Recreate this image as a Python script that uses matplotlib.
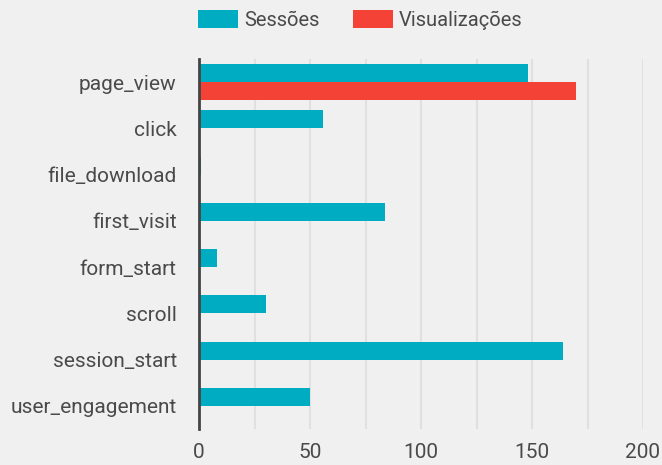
import matplotlib
matplotlib.use('Agg')
import matplotlib.pyplot as plt
import numpy as np

eventos = ['page_view', 'click', 'file_download', 'first_visit',
           'form_start', 'scroll', 'session_start', 'user_engagement']
sessoes = [148, 56, 1, 84, 8, 30, 164, 50]
visualizacoes = [170, 0, 0, 0, 0, 0, 0, 0]
xticks = [0, 50, 100, 150, 200]

plt.rcParams['font.family'] = ['Roboto', 'DejaVu Sans']
bg = '#f0f0f0'
txt = '#4a4a4a'

fig = plt.figure(figsize=(6.62, 4.65), dpi=100, facecolor=bg)
ax = fig.add_axes([199/662, 1 - 429/465, (643-199)/662, (429-59)/465])
ax.set_facecolor(bg)

y = np.arange(len(eventos))
h = 0.39
ax.barh(y - h/2, sessoes, height=h, color='#00acc1', label='Sessões', zorder=3)
ax.barh(y + h/2, visualizacoes, height=h, color='#f44336', label='Visualizações', zorder=3)

ax.set_ylim(len(eventos) - 0.5, -0.5)
ax.set_yticks(y)
ax.set_yticklabels(eventos)
ax.set_xlim(0, 200)
ax.set_xticks(xticks)
ax.set_xticks(np.arange(0, 201, 25), minor=True)
ax.grid(axis='x', which='both', color='#e0e0e0', linewidth=1.5, zorder=0)
ax.tick_params(axis='both', length=0, labelsize=15, colors=txt, which='both')
ax.tick_params(axis='y', pad=16)
ax.tick_params(axis='x', pad=10)
for s in ['top', 'right', 'bottom']:
    ax.spines[s].set_visible(False)
ax.spines['left'].set_color('#444444')
ax.spines['left'].set_linewidth(2)
ax.spines['left'].set_zorder(4)

leg = fig.legend(loc='upper left', bbox_to_anchor=(186/662, 1.005), ncol=2,
                 frameon=False, fontsize=14.5, handlelength=1.99, handleheight=0.99,
                 columnspacing=1.65, handletextpad=0.3, borderaxespad=0.2)
for t in leg.get_texts():
    t.set_color(txt)

fig.savefig('out.png', dpi=100, facecolor=bg)
